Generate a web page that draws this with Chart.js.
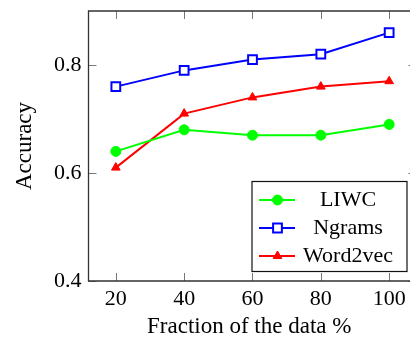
<!DOCTYPE html>
<html lang="en">
<head>
    <meta charset="UTF-8">
    <title>Accuracy vs fraction of data</title>
    <style>
        body { background: #fff; margin: 0; }
        canvas { display: block; }
    </style>
</head>
<body>
    <canvas id="accChart" width="410" height="338"></canvas>

    <script src="https://cdn.jsdelivr.net/npm/chart.js"></script>
    <script>
        // data
        const fractions = [20, 40, 60, 80, 100];
        const liwc = [0.64, 0.68, 0.67, 0.67, 0.69];
        const ngrams = [0.76, 0.79, 0.81, 0.82, 0.86];
        const word2vec = [0.61, 0.71, 0.74, 0.76, 0.77];
        const yTicks = [0.4, 0.6, 0.8];
        const xTicks = [20, 40, 60, 80, 100];

        const FONT = "'Liberation Serif', 'DejaVu Serif', serif";

        const pts = vals => vals.map((v, i) => ({ x: fractions[i], y: v }));

        // pgfplots style frame with inward ticks
        const framePlugin = {
            id: 'frame',
            afterDraw(chart) {
                const { ctx, chartArea: a } = chart;
                const xs = chart.scales.x, ys = chart.scales.y;
                const farRight = xs.getPixelForValue(108);
                ctx.save();
                ctx.strokeStyle = '#777';
                ctx.lineWidth = 1;
                ctx.beginPath();
                xTicks.forEach(v => {
                    const px = Math.round(xs.getPixelForValue(v)) + 0.5;
                    ctx.moveTo(px, a.bottom); ctx.lineTo(px, a.bottom - 8);
                    ctx.moveTo(px, a.top); ctx.lineTo(px, a.top + 8);
                });
                yTicks.forEach(v => {
                    const py = Math.round(ys.getPixelForValue(v)) + 0.5;
                    ctx.moveTo(a.left, py); ctx.lineTo(a.left + 8, py);
                    ctx.moveTo(farRight, py); ctx.lineTo(farRight - 8, py);
                });
                ctx.stroke();

                ctx.strokeStyle = '#333';
                ctx.lineWidth = 1.3;
                ctx.beginPath();
                ctx.moveTo(farRight, a.top);
                ctx.lineTo(a.left, a.top);
                ctx.lineTo(a.left, a.bottom);
                ctx.lineTo(farRight, a.bottom);
                ctx.stroke();
                ctx.restore();
            }
        };

        // legend box in the south east corner
        const legendBox = {
            id: 'legendBox',
            afterDatasetsDraw(chart) {
                const { ctx, chartArea: a } = chart;
                const bx = a.right - 158, by = a.bottom - 99.5, bw = 155, bh = 90;
                ctx.save();
                ctx.fillStyle = '#fff';
                ctx.fillRect(bx, by, bw, bh);
                ctx.strokeStyle = '#111';
                ctx.lineWidth = 1.2;
                ctx.strokeRect(bx, by, bw, bh);

                chart.data.datasets.forEach((ds, i) => {
                    const y = by + 18.5 + i * 28;
                    ctx.strokeStyle = ds.borderColor;
                    ctx.lineWidth = ds.borderWidth;
                    ctx.beginPath();
                    ctx.moveTo(bx + 7, y);
                    ctx.lineTo(bx + 43, y);
                    ctx.stroke();

                    ctx.fillStyle = ds.pointBackgroundColor;
                    ctx.strokeStyle = ds.borderColor;
                    ctx.lineWidth = ds.pointBorderWidth;
                    Chart.helpers.drawPoint(ctx, {
                        pointStyle: ds.pointStyle,
                        radius: ds.pointRadius,
                        borderWidth: ds.pointBorderWidth,
                        rotation: 0
                    }, bx + 25.5, y);

                    ctx.fillStyle = '#000';
                    ctx.font = '22px ' + FONT;
                    ctx.textAlign = 'center';
                    ctx.textBaseline = 'middle';
                    ctx.fillText(ds.label, bx + 96, y);
                });
                ctx.restore();
            }
        };

        new Chart(document.getElementById('accChart'), {
            type: 'line',
            data: {
                datasets: [
                    {
                        label: 'LIWC',
                        data: pts(liwc),
                        borderColor: '#00ff00',
                        backgroundColor: '#00ff00',
                        pointBackgroundColor: '#00ff00',
                        borderWidth: 2,
                        pointStyle: 'circle',
                        pointRadius: 5,
                        pointBorderWidth: 1
                    },
                    {
                        label: 'Ngrams',
                        data: pts(ngrams),
                        borderColor: '#0000ff',
                        backgroundColor: '#0000ff',
                        pointBackgroundColor: '#ffffff',
                        borderWidth: 2,
                        pointStyle: 'rect',
                        pointRadius: 6.2,
                        pointBorderWidth: 2
                    },
                    {
                        label: 'Word2vec',
                        data: pts(word2vec),
                        borderColor: '#ff0000',
                        backgroundColor: '#ff0000',
                        pointBackgroundColor: '#ff0000',
                        borderWidth: 2,
                        pointStyle: 'triangle',
                        pointRadius: 5,
                        pointBorderWidth: 1
                    }
                ]
            },
            options: {
                responsive: false,
                animation: false,
                layout: { autoPadding: false, padding: { top: 11, right: 0, left: 0, bottom: 0 } },
                plugins: {
                    legend: { display: false },
                    tooltip: { enabled: false }
                },
                scales: {
                    x: {
                        type: 'linear',
                        min: 12,
                        max: 106.1,
                        grid: { display: false, drawTicks: false },
                        border: { display: false },
                        afterBuildTicks: s => { s.ticks = xTicks.map(v => ({ value: v })); },
                        afterFit: s => { s.height = 57; s.paddingLeft = 0; s.paddingRight = 0; },
                        ticks: {
                            padding: 5,
                            color: '#000',
                            font: { family: FONT, size: 22 }
                        },
                        title: {
                            display: true,
                            text: 'Fraction of the data %',
                            color: '#000',
                            padding: { top: 0, bottom: 0 },
                            font: { family: FONT, size: 23, lineHeight: 1 }
                        }
                    },
                    y: {
                        min: 0.4,
                        max: 0.9,
                        grid: { display: false, drawTicks: false },
                        border: { display: false },
                        afterBuildTicks: s => { s.ticks = yTicks.map(v => ({ value: v })); },
                        afterFit: s => { s.width = 88.5; s.paddingTop = 0; s.paddingBottom = 0; },
                        ticks: {
                            padding: 7,
                            color: '#000',
                            font: { family: FONT, size: 22 },
                            callback: v => v.toFixed(1)
                        },
                        title: {
                            display: true,
                            text: 'Accuracy',
                            color: '#000',
                            padding: { top: 13, bottom: 0 },
                            font: { family: FONT, size: 23, lineHeight: 1 }
                        }
                    }
                }
            },
            plugins: [framePlugin, legendBox]
        });
    </script>
</body>
</html>
